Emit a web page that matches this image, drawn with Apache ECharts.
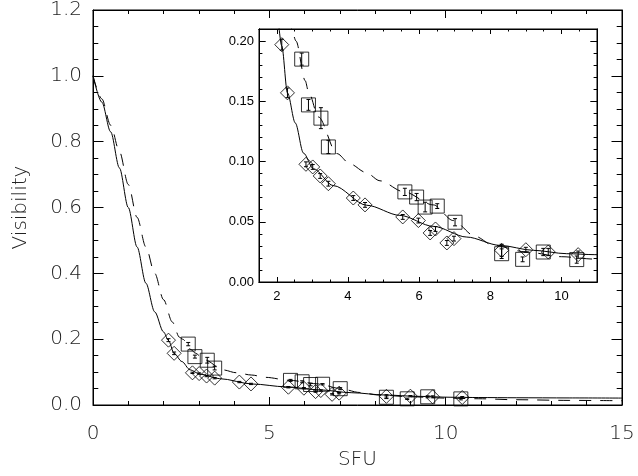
<!DOCTYPE html>
<html>
<head>
<meta charset="utf-8">
<script src="https://cdn.jsdelivr.net/npm/echarts@6/dist/echarts.min.js"></script>
<style>html,body{margin:0;padding:0;background:#fff}#c{width:638px;height:476px}</style>
</head>
<body>
<div id="c"></div>
<script>
// ---- data ----
const solidX = [0, 0.25, 0.5, 0.75, 1.0, 1.25, 1.5, 1.75, 2.0, 2.14, 2.30, 2.52, 2.75, 3.03, 3.59, 4.53, 5.46, 6.40, 7.34, 8.27, 9.21, 10.15, 10.94, 12.0, 13.5, 15.0];
const solidY = [1.0, 0.92, 0.83, 0.72, 0.60, 0.48, 0.37, 0.283, 0.222, 0.196, 0.157, 0.132, 0.107, 0.094, 0.080, 0.0637, 0.0553, 0.0462, 0.0373, 0.0304, 0.0263, 0.0235, 0.0227, 0.0220, 0.0215, 0.0210];
const dashX = [0, 0.25, 0.5, 0.75, 1.0, 1.25, 1.5, 1.75, 2.0, 2.25, 2.45, 2.54, 2.80, 2.89, 3.17, 3.69, 4.06, 4.50, 4.90, 5.56, 6.40, 6.96, 7.57, 8.08, 9.0, 10.0, 10.94, 12.0, 13.5, 15.0];
const dashY = [1.0, 0.93, 0.85, 0.77, 0.67, 0.57, 0.48, 0.40, 0.32, 0.252, 0.206, 0.200, 0.167, 0.158, 0.137, 0.1066, 0.098, 0.091, 0.084, 0.075, 0.064, 0.051, 0.038, 0.0305, 0.025, 0.021, 0.019, 0.016, 0.014, 0.013];

const diamondX = [2.14, 2.30, 2.82, 3.01, 3.22, 3.45, 4.15, 4.48, 5.54, 5.98, 6.31, 6.46, 6.78, 6.98, 8.32, 9.00, 9.63, 10.47];
const diamondY = [0.197, 0.157, 0.0977, 0.0955, 0.088, 0.0816, 0.0697, 0.064, 0.054, 0.051, 0.0407, 0.044, 0.0324, 0.036, 0.0263, 0.0268, 0.0249, 0.0227];
const diamondErr = [0.0045, 0.004, 0.002, 0.002, 0.002, 0.002, 0.002, 0.002, 0.002, 0.002, 0.002, 0.002, 0.002, 0.002, 0.005, 0.002, 0.003, 0.003];

const squareX = [2.70, 2.89, 3.24, 3.45, 5.60, 5.93, 6.17, 6.51, 7.01, 8.32, 8.91, 9.49, 10.43];
const squareY = [0.185, 0.147, 0.136, 0.1121, 0.0748, 0.0705, 0.0622, 0.063, 0.0496, 0.0235, 0.0188, 0.0249, 0.0186];
const squareErr = [0.005, 0.0045, 0.0087, 0.0055, 0.003, 0.003, 0.004, 0.002, 0.003, 0.004, 0.002, 0.003, 0.003];

const mainXTicks = [0, 5, 10, 15];
const mainYTicks = [0, 0.2, 0.4, 0.6, 0.8, 1.0, 1.2];
const insetXTicks = [2, 4, 6, 8, 10];
const insetYTicks = [0, 0.05, 0.10, 0.15, 0.20];

// ---- build ----
const zip = (a, b) => a.map((v, i) => [v, b[i]]);
const zip3 = (a, b, c) => a.map((v, i) => [v, b[i], c[i]]);
const FONT = 'DejaVu Sans';
const insetXMinor = []; for (let v = 1.5; v <= 11.0001; v += 0.5) insetXMinor.push(+v.toFixed(2));
const insetYMinor = []; for (let v = 0; v <= 0.2101; v += 0.01) insetYMinor.push(+v.toFixed(3));

const axisLine = { show: true, onZero: false, lineStyle: { color: '#000', width: 1 } };

function mainX(pos, labels) {
  return {
    type: 'value', gridIndex: 0, position: pos, min: 0, max: 15, interval: 5, z: 5,
    axisLine, splitLine: { show: false },
    axisTick: { show: true, inside: true, length: 8, lineStyle: { color: '#000' } },
    minorTick: { show: true, splitNumber: 5, length: 4, lineStyle: { color: '#000' } },
    axisLabel: labels ? { show: true, margin: 19, fontSize: 20, fontFamily: FONT, fontWeight: 200, color: '#222' } : { show: false },
    name: labels ? 'SFU' : '', nameLocation: 'middle', nameGap: 45,
    nameTextStyle: { fontSize: 20, fontFamily: FONT, fontWeight: 200, color: '#222' }
  };
}
function mainY(pos, labels) {
  return {
    type: 'value', gridIndex: 0, position: pos, min: 0, max: 1.2, interval: 0.2, z: 5,
    axisLine, splitLine: { show: false },
    axisTick: { show: true, inside: true, length: 10.5, lineStyle: { color: '#000' } },
    minorTick: { show: true, splitNumber: 4, length: 5.3, lineStyle: { color: '#000' } },
    axisLabel: labels ? { show: true, margin: 11, fontSize: 20, fontFamily: FONT, fontWeight: 200, color: '#222', formatter: v => v.toFixed(1) } : { show: false },
    name: labels ? 'Visibility' : '', nameLocation: 'middle', nameGap: 62, nameRotate: 90,
    nameTextStyle: { fontSize: 20, fontFamily: FONT, fontWeight: 200, color: '#222' }
  };
}
function insetX(pos, ticks, len, labels) {
  return {
    type: 'value', gridIndex: 1, position: pos, min: 1.5, max: 11, z: 5,
    axisLine, splitLine: { show: false },
    axisTick: { show: true, inside: true, length: len, customValues: ticks, lineStyle: { color: '#000' } },
    axisLabel: labels ? { show: true, customValues: insetXTicks, margin: 8, fontSize: 13, fontFamily: 'Liberation Sans', color: '#000' } : { show: false }
  };
}
function insetY(pos, ticks, len, labels) {
  return {
    type: 'value', gridIndex: 1, position: pos, min: 0, max: 0.21, z: 5,
    axisLine, splitLine: { show: false },
    axisTick: { show: true, inside: true, length: len, customValues: ticks, lineStyle: { color: '#000' } },
    axisLabel: labels ? { show: true, customValues: insetYTicks, margin: 5, fontSize: 13, fontFamily: 'Liberation Sans', color: '#000', formatter: v => v.toFixed(2) } : { show: false }
  };
}

function errRender(params, api) {
  const x = api.value(0), y = api.value(1), e = api.value(2);
  const t = api.coord([x, y + e]), b = api.coord([x, y - e]);
  const hw = 2;
  const st = { stroke: '#000', lineWidth: 1 };
  return { type: 'group', children: [
    { type: 'line', shape: { x1: t[0], y1: t[1], x2: b[0], y2: b[1] }, style: st },
    { type: 'line', shape: { x1: t[0] - hw, y1: t[1], x2: t[0] + hw, y2: t[1] }, style: st },
    { type: 'line', shape: { x1: b[0] - hw, y1: b[1], x2: b[0] + hw, y2: b[1] }, style: st }
  ]};
}

function seriesFor(xi, yi) {
  return [
    { type: 'line', xAxisIndex: xi, yAxisIndex: yi, data: zip(solidX, solidY), smooth: 0.3, smoothMonotone: 'x', showSymbol: false, clip: true,
      lineStyle: { color: '#000', width: 1 }, silent: true, z: 3 },
    { type: 'line', xAxisIndex: xi, yAxisIndex: yi, data: zip(dashX, dashY), smooth: 0.3, smoothMonotone: 'x', showSymbol: false, clip: true,
      lineStyle: { color: '#000', width: 1, type: [12, 9] }, silent: true, z: 3 },
    { type: 'scatter', xAxisIndex: xi, yAxisIndex: yi, data: zip(diamondX, diamondY), symbol: 'diamond', symbolSize: 14,
      itemStyle: { color: 'rgba(0,0,0,0)', borderColor: '#000', borderWidth: 1 }, z: 4 },
    { type: 'scatter', xAxisIndex: xi, yAxisIndex: yi, data: zip(squareX, squareY), symbol: 'rect', symbolSize: 14,
      itemStyle: { color: 'rgba(0,0,0,0)', borderColor: '#000', borderWidth: 1 }, z: 4 },
    { type: 'custom', xAxisIndex: xi, yAxisIndex: yi, data: zip3(diamondX, diamondY, diamondErr), renderItem: errRender, z: 5 },
    { type: 'custom', xAxisIndex: xi, yAxisIndex: yi, data: zip3(squareX, squareY, squareErr), renderItem: errRender, z: 5 }
  ];
}

const chart = echarts.init(document.getElementById('c'), null, { renderer: 'canvas' });
chart.setOption({
  backgroundColor: '#fff',
  animation: false,
  grid: [
    { left: 93, top: 9, width: 529, height: 396, show: true, backgroundColor: 'transparent', borderColor: '#000', borderWidth: 1 },
    { left: 259, top: 29, width: 338, height: 253, show: true, backgroundColor: 'transparent', borderColor: '#000', borderWidth: 1 }
  ],
  xAxis: [
    mainX('bottom', true),
    mainX('top', false),
    insetX('bottom', insetXTicks, 5, true),
    insetX('bottom', insetXMinor, 2.5, false),
    insetX('top', insetXTicks, 5, false),
    insetX('top', insetXMinor, 2.5, false)
  ],
  yAxis: [
    mainY('left', true),
    mainY('right', false),
    insetY('left', insetYTicks, 6.7, true),
    insetY('left', insetYMinor, 3.4, false),
    insetY('right', insetYTicks, 6.7, false),
    insetY('right', insetYMinor, 3.4, false)
  ],
  series: [...seriesFor(0, 0), ...seriesFor(2, 2)]
});
</script>
</body>
</html>
